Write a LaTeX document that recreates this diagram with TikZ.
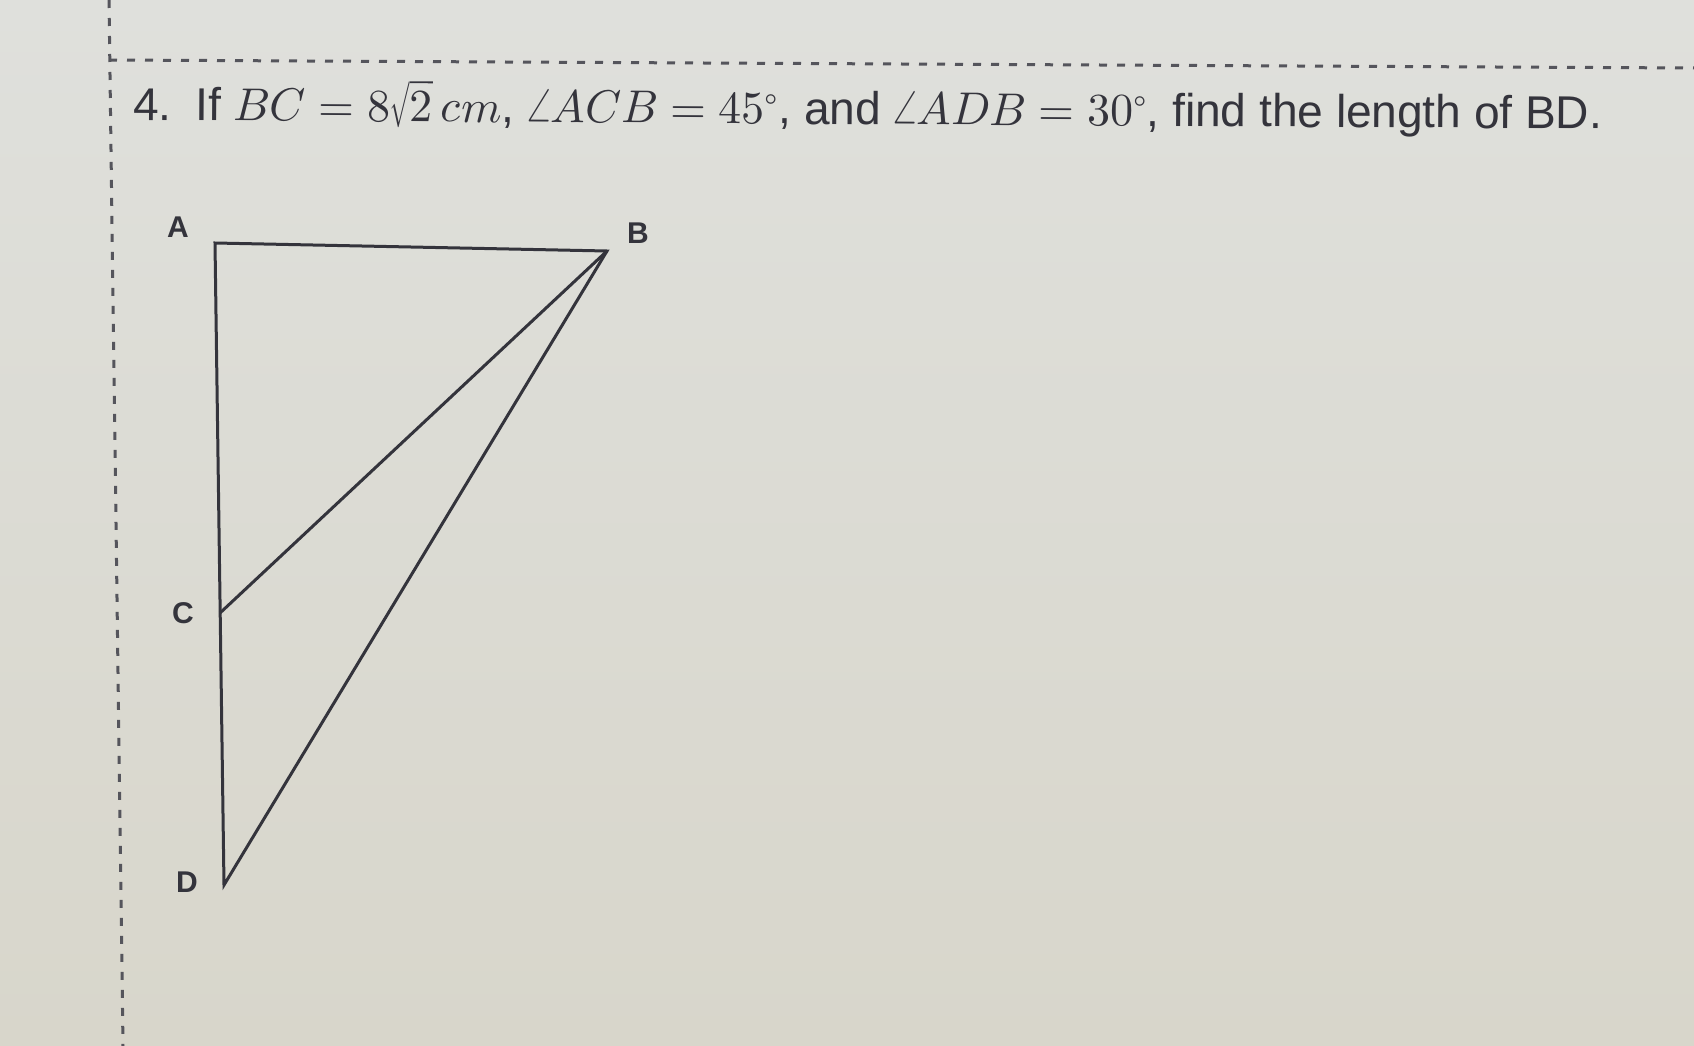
\documentclass[tikz,border=0pt]{standalone}
\usepackage{graphicx}
\usepackage{fontspec}
\usepackage{unicode-math}
\setmainfont{Liberation Sans}
\setmathfont{Latin Modern Math}
\definecolor{bgtop}{RGB}{223,224,220}
\definecolor{bgbot}{RGB}{216,214,203}
\definecolor{ink}{RGB}{52,52,60}
\definecolor{dashc}{RGB}{85,85,92}
\newcommand{\nsurd}[1]{\scalebox{0.5}[1]{$\sqrt{\scalebox{2}[1]{$#1$}}$}}
\newcommand{\nang}{\scalebox{0.65}[1]{$\angle$}}
\tikzset{
  edge/.style={draw=ink, line width=3pt, line join=miter},
  lab/.style={text=ink, inner sep=0pt, font=\fontsize{30}{32}\selectfont\bfseries},
  border/.style={draw=dashc, line width=3pt, dash pattern=on 8pt off 10pt}
}
\begin{document}
\begin{tikzpicture}[x=1pt,y=-1pt]
\useasboundingbox (0,0) rectangle (1694,1046);
\fill[top color=bgtop, bottom color=bgbot] (0,0) rectangle (1694,1046);
% dashed frame
\coordinate (f0) at (109,0);
\coordinate (f1) at (109,60);
\coordinate (f2) at (1694,68);
\coordinate (f3) at (123,1046);
\draw[border] (f1) -- (f2);
\draw[border] (f0) -- (f3);
% question text
\node[anchor=base west, inner sep=0pt, text=ink, font=\fontsize{46}{50}\selectfont, rotate=-0.35] (q) at (133,120)
  {4.\hspace{24pt}If $BC = 8$\nsurd{2}$\,cm$, \nang$ACB = 45^\circ$, and \nang$ADB = 30^\circ$, find the length of BD.};
% figure
\coordinate (A) at (215,243);
\coordinate (B) at (607,251);
\coordinate (C) at (220,613);
\coordinate (D) at (224,885);
\draw[edge] (B) -- (A) -- (D) -- cycle;
\draw[edge] (B) -- (C);
\node[lab] (lA) at (178,227) {A};
\node[lab] (lB) at (638,233) {B};
\node[lab] (lC) at (183,613) {C};
\node[lab] (lD) at (187,882) {D};
\end{tikzpicture}
\end{document}
